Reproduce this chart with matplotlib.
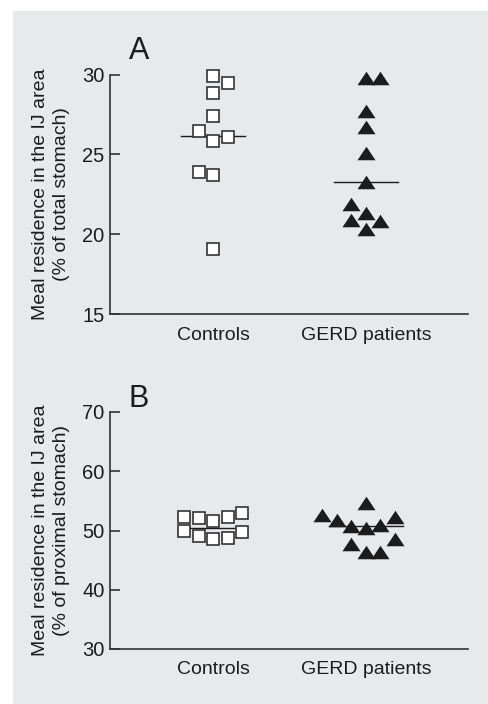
import matplotlib.pyplot as plt
from matplotlib.patches import Rectangle

plt.rcParams['font.family'] = ['Liberation Sans', 'DejaVu Sans']

GROUPS = ['Controls', 'GERD patients']

# Panel A: % of total stomach
ctrl_a = [29.9, 29.5, 28.85, 27.4, 26.5, 26.1, 25.85, 23.9, 23.7, 19.1]
ctrl_a_slot = [0, 1, 0, 0, -1, 1, 0, -1, 0, 0]
gerd_a = [29.8, 29.8, 27.7, 26.7, 25.1, 23.3, 21.9, 21.3, 20.9, 20.85, 20.3]
gerd_a_slot = [0, 1, 0, 0, 0, 0, -1, 0, -1, 1, 0]
median_a = [26.15, 23.3]

# Panel B: % of proximal stomach
ctrl_b = [52.2, 52.05, 51.6, 52.3, 52.9, 50.0, 49.05, 48.6, 48.65, 49.8]
ctrl_b_slot = [-2, -1, 0, 1, 2, -2, -1, 0, 1, 2]
gerd_b = [54.6, 52.7, 51.7, 50.7, 50.35, 51.0, 52.2, 47.8, 48.6, 46.3, 46.4]
gerd_b_slot = [0, -3, -2, -1, 0, 1, 2, -1, 2, 0, 1]
median_b = [50.4, 50.7]

SLOT = 0.095
INK = '#1c1c1c'
TRI = [(-1, -0.75), (1, -0.75), (0, 0.75)]

fig = plt.figure(figsize=(4.88, 7.04), dpi=100)
fig.add_artist(Rectangle((13 / 488, 0), 1, 1 - 11 / 704, transform=fig.transFigure,
                         facecolor='#e8e9eb', edgecolor='none', zorder=-10))


def panel(rect, ctrl, cslot, gerd, gslot, med, med_half, ylim, yticks, letter, letter_y, ylabel):
    ax = fig.add_axes(rect)
    ax.set_facecolor('none')
    for i, (m, h) in enumerate(zip(med, med_half)):
        ax.plot([i + 1 - h, i + 1 + h], [m, m], color=INK, lw=1.0, zorder=2)
    ax.plot([1 + s * SLOT for s in cslot], ctrl, linestyle='none', marker='s', ms=8,
            mfc='white', mec='#333333', mew=1.2, zorder=3, clip_on=False)
    ax.plot([2 + s * SLOT for s in gslot], gerd, linestyle='none', marker=TRI, ms=13,
            mfc=INK, mec=INK, mew=0, zorder=3, clip_on=False)
    ax.set_xlim(0.326, 2.668)
    ax.set_ylim(*ylim)
    ax.set_yticks(yticks)
    ax.set_xticks([1, 2])
    ax.set_xticklabels(GROUPS)
    for s in ['top', 'right']:
        ax.spines[s].set_visible(False)
    for s in ['left', 'bottom']:
        ax.spines[s].set_color('#333333')
        ax.spines[s].set_linewidth(1.2)
    ax.tick_params(axis='y', direction='in', length=7, width=1.2, color='#333333',
                   labelsize=14.5, pad=4, labelcolor=INK)
    ax.tick_params(axis='x', length=0, labelsize=14, pad=9, labelcolor=INK)
    ax.text(0.081, letter_y, letter, transform=ax.transAxes, fontsize=22,
            ha='center', va='center', color=INK)
    pos = ax.get_position()
    fig.text(51 / 488, (pos.y0 + pos.y1) / 2, ylabel, rotation=90, ha='center',
             va='center', fontsize=14, linespacing=1.38, color=INK)
    return ax


panel([110 / 488, 390 / 704, 358 / 488, 239.3 / 704], ctrl_a, ctrl_a_slot, gerd_a, gerd_a_slot,
      median_a, [0.21, 0.21], (15, 30), [15, 20, 25, 30], 'A', 1.099,
      'Meal residence in the IJ area\n(% of total stomach)')
panel([110 / 488, 55 / 704, 358 / 488, 237 / 704], ctrl_b, ctrl_b_slot, gerd_b, gerd_b_slot,
      median_b, [0.19, 0.24], (30, 70), [30, 40, 50, 60, 70], 'B', 1.055,
      'Meal residence in the IJ area\n(% of proximal stomach)')

plt.savefig('out.png', dpi=100)
